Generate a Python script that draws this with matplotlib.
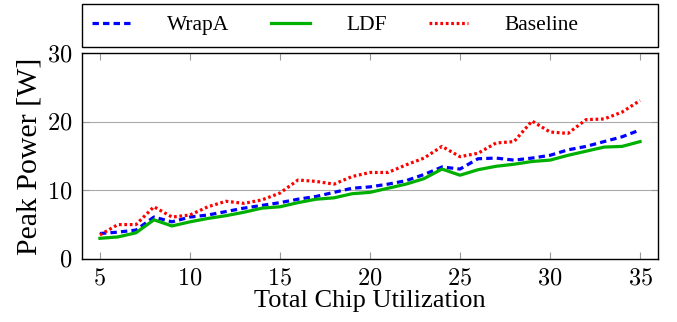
import numpy as np
import matplotlib.pyplot as plt
from matplotlib.patches import Rectangle

plt.rcParams['font.family'] = ['Liberation Serif', 'DejaVu Serif']
plt.rcParams['mathtext.fontset'] = 'cm'

util = list(range(5, 36))
wrapa = [3.7, 3.9, 4.2, 6.1, 5.4, 6.1, 6.4, 6.9, 7.4, 7.8, 8.2, 8.7, 9.1, 9.7, 10.3, 10.5,
         10.9, 11.4, 12.3, 13.4, 13.1, 14.6, 14.7, 14.4, 14.7, 15.1, 15.9, 16.4, 17.1, 17.8, 18.8]
ldf = [3.0, 3.2, 3.8, 5.7, 4.8, 5.4, 5.9, 6.3, 6.8, 7.4, 7.6, 8.2, 8.7, 8.9, 9.5, 9.7,
       10.3, 10.9, 11.7, 13.1, 12.2, 13.0, 13.5, 13.8, 14.2, 14.4, 15.1, 15.7, 16.3, 16.4, 17.1]
baseline = [3.5, 5.0, 5.0, 7.6, 6.1, 6.4, 7.6, 8.4, 8.1, 8.6, 9.6, 11.5, 11.3, 10.9, 12.0, 12.6,
            12.6, 13.7, 14.7, 16.4, 14.9, 15.4, 16.9, 17.1, 20.1, 18.5, 18.3, 20.3, 20.4, 21.4, 23.1]
xticks = [5, 10, 15, 20, 25, 30, 35]
yticks = [0, 10, 20, 30]

fig = plt.figure(figsize=(6.77, 3.22), dpi=100)
ax = fig.add_axes([0.121, 0.196, 0.851, 0.639])

ax.plot(util, wrapa, color='#0000ff', lw=2.3, ls=(0, (2.0, 1.3)), label='WrapA')
ax.plot(util, ldf, color='#00b000', lw=2.3, label='LDF')
ax.plot(util, baseline, color='#ff0000', lw=2.3, ls=(0, (0.85, 0.85)), label='Baseline')

ax.set_xlim(4, 36)
ax.set_ylim(0, 30)
ax.set_xticks(xticks)
ax.set_xticklabels(['$%d$' % t for t in xticks])
ax.set_yticks(yticks)
ax.set_yticklabels(['$%d$' % t for t in yticks])
ax.tick_params(direction='in', length=5, color='#999999', labelsize=17.5,
               top=True, right=True, pad=7)
ax.grid(axis='y', color='#aaaaaa', lw=0.8)
for s in ax.spines.values():
    s.set_linewidth(1.0)

ax.set_xlabel('Total Chip Utilization', fontsize=19, labelpad=0)
ax.set_ylabel('Peak Power [W]', fontsize=21.5, labelpad=3)

# legend box spans the full axes width, entries sit to the left
fig.patches.append(Rectangle((0.121, 0.854), 0.851, 0.134, transform=fig.transFigure,
                             fill=False, edgecolor='black', lw=1.0))
leg = fig.legend(loc='center left', bbox_to_anchor=(0.121, 0.921),
                 ncol=3, fontsize=15.5, frameon=False,
                 handlelength=1.8, handletextpad=1.7, columnspacing=1.95,
                 borderaxespad=0, borderpad=0.45)

fig.savefig('out.png', dpi=100)
